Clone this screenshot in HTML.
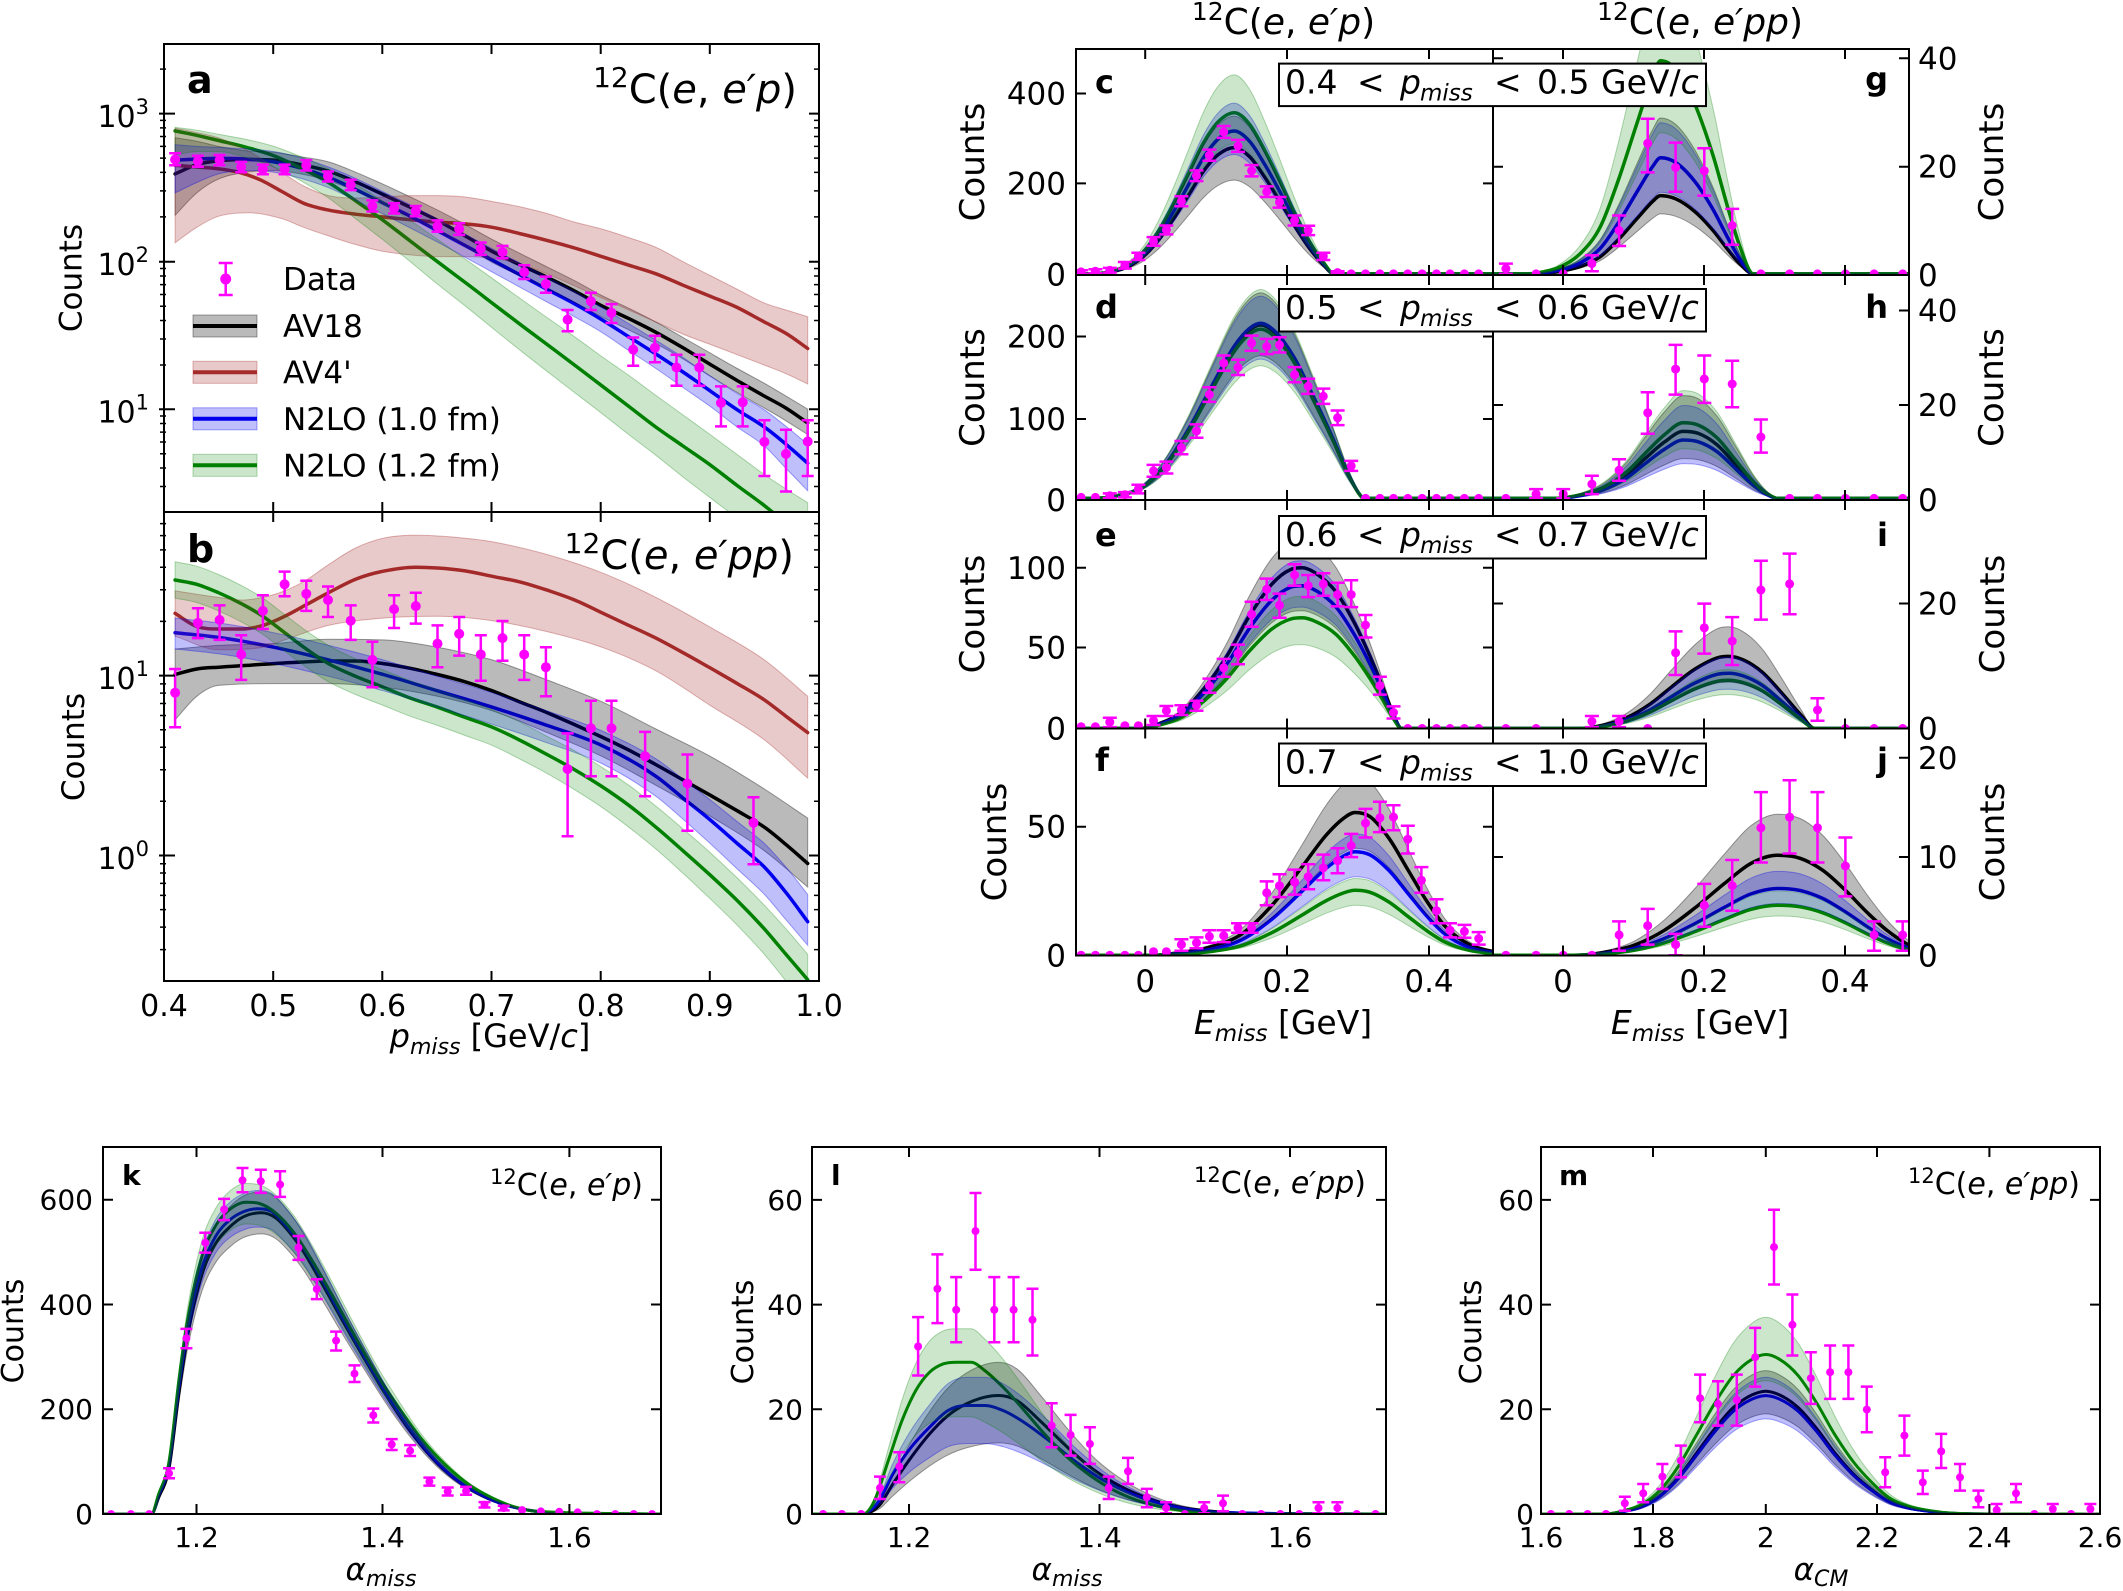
<!DOCTYPE html>
<html><head><meta charset="utf-8">
<style>
html,body{margin:0;padding:0;background:#fff;}
svg{display:block;}
text{font-family:"DejaVu Sans","Liberation Sans",sans-serif;fill:#000;}
.it{font-style:italic}
.bd{font-weight:bold}
</style></head><body>
<svg id="S" width="2123" height="1591" viewBox="0 0 2123 1591">
<defs>
<clipPath id="cA"><rect x="164" y="44" width="655" height="468"/></clipPath>
<clipPath id="cB"><rect x="164" y="512" width="655" height="469"/></clipPath>
<clipPath id="cC"><rect x="1076" y="49" width="417" height="226"/></clipPath>
<clipPath id="cG"><rect x="1493" y="49" width="416" height="226"/></clipPath>
<clipPath id="cD"><rect x="1076" y="275" width="417" height="225"/></clipPath>
<clipPath id="cH"><rect x="1493" y="275" width="416" height="225"/></clipPath>
<clipPath id="cE"><rect x="1076" y="500" width="417" height="228.5"/></clipPath>
<clipPath id="cI"><rect x="1493" y="500" width="416" height="228.5"/></clipPath>
<clipPath id="cF"><rect x="1076" y="728.5" width="417" height="227"/></clipPath>
<clipPath id="cJ"><rect x="1493" y="728.5" width="416" height="227"/></clipPath>
<clipPath id="cK"><rect x="103" y="1147" width="558" height="367"/></clipPath>
<clipPath id="cL"><rect x="812" y="1147" width="574" height="367"/></clipPath>
<clipPath id="cM"><rect x="1541" y="1147" width="559" height="367"/></clipPath>
</defs>
<rect width="2123" height="1591" fill="#fff"/>

<g id="gA" clip-path="url(#cA)"></g>
<g id="gB" clip-path="url(#cB)"></g>
<g id="gC" clip-path="url(#cC)"></g>
<g id="gG" clip-path="url(#cG)"></g>
<g id="gD" clip-path="url(#cD)"></g>
<g id="gH" clip-path="url(#cH)"></g>
<g id="gE" clip-path="url(#cE)"></g>
<g id="gI" clip-path="url(#cI)"></g>
<g id="gF" clip-path="url(#cF)"></g>
<g id="gJ" clip-path="url(#cJ)"></g>
<g id="gK" clip-path="url(#cK)"></g>
<g id="gL" clip-path="url(#cL)"></g>
<g id="gM" clip-path="url(#cM)"></g>

<!-- frames -->
<g fill="none" stroke="#000" stroke-width="2">
<rect x="164" y="44" width="655" height="937"/>
<path d="M164,512H819"/>
<rect x="1076" y="49" width="833" height="906.5"/>
<path d="M1076,275H1909M1076,500H1909M1076,728.5H1909M1493,49V955.5"/>
<rect x="103" y="1147" width="558" height="367"/>
<rect x="812" y="1147" width="574" height="367"/>
<rect x="1541" y="1147" width="559" height="367"/>
</g>
<!-- ticks -->
<g fill="none" stroke="#000" stroke-width="2">
<path d="M273.2,44v10M382.3,44v10M491.5,44v10M600.7,44v10M709.8,44v10M273.2,502v20M382.3,502v20M491.5,502v20M600.7,502v20M709.8,502v20M273.2,971v10M382.3,971v10M491.5,971v10M600.7,971v10M709.8,971v10"/>
<path d="M159,113.6h16M159,261.7h16M159,409.2h16M159,675.6h16M159,855.5h16M809,113.6h10M809,261.7h10M809,409.2h10M809,675.6h10M809,855.5h10"/>
<path d="M1145.2,49v10M1287,49v10M1429,49v10M1563,49v10M1704,49v10M1845,49v10M1145.2,265v20M1287,265v20M1429,265v20M1563,265v20M1704,265v20M1845,265v20M1145.2,490v20M1287,490v20M1429,490v20M1563,490v20M1704,490v20M1845,490v20M1145.2,718.5v20M1287,718.5v20M1429,718.5v20M1563,718.5v20M1704,718.5v20M1845,718.5v20M1145.2,945.5v10M1287,945.5v10M1429,945.5v10M1563,945.5v10M1704,945.5v10M1845,945.5v10"/>
<path d="M1076,93.5h10M1076,183.4h10M1076,336.5h10M1076,419h10M1076,567.8h10M1076,647.5h10M1076,826.7h10M1483,93.5h10M1483,183.4h10M1483,336.5h10M1483,419h10M1483,567.8h10M1483,647.5h10M1483,826.7h10"/>
<path d="M1493,58.3h10M1493,166.7h10M1493,310.5h10M1493,405h10M1493,603.5h10M1493,757.8h10M1493,857h10M1899,58.3h10M1899,166.7h10M1899,310.5h10M1899,405h10M1899,603.5h10M1899,757.8h10M1899,857h10"/>
<path d="M196.5,1147v10M382.5,1147v10M569.4,1147v10M196.5,1504v10M382.5,1504v10M569.4,1504v10M103,1409.2h10M103,1304.5h10M103,1199.7h10M651,1409.2h10M651,1304.5h10M651,1199.7h10"/>
<path d="M909,1147v10M1099.5,1147v10M1290,1147v10M909,1504v10M1099.5,1504v10M1290,1504v10M812,1409.3h10M812,1304.6h10M812,1199.9h10M1376,1409.3h10M1376,1304.6h10M1376,1199.9h10"/>
<path d="M1653,1147v10M1765.8,1147v10M1877,1147v10M1989.4,1147v10M1653,1504v10M1765.8,1504v10M1877,1504v10M1989.4,1504v10M1541,1409.3h10M1541,1304.6h10M1541,1199.9h10M2090,1409.3h10M2090,1304.6h10M2090,1199.9h10"/>
</g>
<g fill="none" stroke="#000" stroke-width="1.5">
<path d="M160,69.1h6M160,120.4h6M160,127.9h6M160,136.5h6M160,146.4h6M160,158.1h6M160,172.4h6M160,190.9h6M160,216.9h6M160,268.5h6M160,276h6M160,284.6h6M160,294.5h6M160,306.2h6M160,320.5h6M160,339h6M160,365h6M160,416h6M160,423.5h6M160,432.1h6M160,442h6M160,453.7h6M160,468h6M160,486.5h6"/>
<path d="M814,69.1h5M814,120.4h5M814,127.9h5M814,136.5h5M814,146.4h5M814,158.1h5M814,172.4h5M814,190.9h5M814,216.9h5M814,268.5h5M814,276h5M814,284.6h5M814,294.5h5M814,306.2h5M814,320.5h5M814,339h5M814,365h5M814,416h5M814,423.5h5M814,432.1h5M814,442h5M814,453.7h5M814,468h5M814,486.5h5"/>
<path d="M160,523.6h6M160,535.6h6M160,549.9h6M160,567.3h6M160,589.8h6M160,621.4h6M160,683.9h6M160,693.1h6M160,703.5h6M160,715.5h6M160,729.7h6M160,747.2h6M160,769.7h6M160,801.3h6M160,863.8h6M160,873h6M160,883.4h6M160,895.4h6M160,909.6h6M160,927.1h6M160,949.6h6"/>
<path d="M814,523.6h5M814,535.6h5M814,549.9h5M814,567.3h5M814,589.8h5M814,621.4h5M814,683.9h5M814,693.1h5M814,703.5h5M814,715.5h5M814,729.7h5M814,747.2h5M814,769.7h5M814,801.3h5M814,863.8h5M814,873h5M814,883.4h5M814,895.4h5M814,909.6h5M814,927.1h5M814,949.6h5"/>
</g>

<!-- Panel a/b texts -->
<text x="187" y="93" class="bd" font-size="38">a</text>
<text x="797" y="103" text-anchor="end" font-size="40"><tspan font-size="28" dy="-16">12</tspan><tspan dy="16">C(</tspan><tspan class="it">e</tspan>, <tspan class="it">e′p</tspan>)</text>
<text x="187" y="562" class="bd" font-size="38">b</text>
<text x="794" y="569" text-anchor="end" font-size="40"><tspan font-size="28" dy="-16">12</tspan><tspan dy="16">C(</tspan><tspan class="it">e</tspan>, <tspan class="it">e′pp</tspan>)</text>
<g font-size="30" text-anchor="end">
<text x="149" y="127">10<tspan font-size="21" dy="-13">3</tspan></text>
<text x="149" y="275">10<tspan font-size="21" dy="-13">2</tspan></text>
<text x="149" y="422.7">10<tspan font-size="21" dy="-13">1</tspan></text>
<text x="149" y="689">10<tspan font-size="21" dy="-13">1</tspan></text>
<text x="149" y="869">10<tspan font-size="21" dy="-13">0</tspan></text>
</g>
<g font-size="30" text-anchor="middle">
<text x="164" y="1016">0.4</text><text x="273.2" y="1016">0.5</text><text x="382.3" y="1016">0.6</text><text x="491.5" y="1016">0.7</text><text x="600.7" y="1016">0.8</text><text x="709.8" y="1016">0.9</text><text x="819" y="1016">1.0</text>
</g>
<text x="490" y="1047" text-anchor="middle" font-size="32"><tspan class="it">p</tspan><tspan class="it" font-size="22" dy="7">miss</tspan><tspan dy="-7"> [GeV/</tspan><tspan class="it">c</tspan>]</text>
<text transform="translate(81.5,278) rotate(-90)" text-anchor="middle" font-size="31">Counts</text>
<text transform="translate(84,747) rotate(-90)" text-anchor="middle" font-size="31">Counts</text>

<!-- legend -->
<g>
<path d="M225.7,263V295M218.7,263h14M218.7,295h14" stroke="#ff00ff" stroke-width="2.5" fill="none"/>
<circle cx="225.7" cy="279" r="5.5" fill="#ff00ff"/>
<rect x="193" y="315" width="64" height="22" fill="#000" fill-opacity=".27" stroke="#000" stroke-opacity=".35"/>
<path d="M193,326h64" stroke="#000" stroke-width="4"/>
<rect x="193" y="361.3" width="64" height="22" fill="#a52a2a" fill-opacity=".25" stroke="#a52a2a" stroke-opacity=".35"/>
<path d="M193,372.3h64" stroke="#a52a2a" stroke-width="4"/>
<rect x="193" y="407.8" width="64" height="22" fill="#0000ee" fill-opacity=".25" stroke="#0000ee" stroke-opacity=".35"/>
<path d="M193,418.8h64" stroke="#0000ee" stroke-width="4"/>
<rect x="193" y="454.3" width="64" height="22" fill="#008000" fill-opacity=".2" stroke="#008000" stroke-opacity=".3"/>
<path d="M193,465.3h64" stroke="#008000" stroke-width="4"/>
<g font-size="31">
<text x="283" y="290">Data</text>
<text x="283" y="337">AV18</text>
<text x="283" y="383.5">AV4'</text>
<text x="283" y="430">N2LO (1.0 fm)</text>
<text x="283" y="476.5">N2LO (1.2 fm)</text>
</g>
</g>

<!-- right panels texts -->
<text x="1283.5" y="34" text-anchor="middle" font-size="36"><tspan font-size="25" dy="-14">12</tspan><tspan dy="14">C(</tspan><tspan class="it">e</tspan>, <tspan class="it">e′p</tspan>)</text>
<text x="1700" y="34" text-anchor="middle" font-size="36"><tspan font-size="25" dy="-14">12</tspan><tspan dy="14">C(</tspan><tspan class="it">e</tspan>, <tspan class="it">e′pp</tspan>)</text>
<g class="bd" font-size="32">
<text x="1095" y="93">c</text><text x="1888" y="90" text-anchor="end">g</text>
<text x="1095" y="318">d</text><text x="1888" y="318" text-anchor="end">h</text>
<text x="1095" y="546">e</text><text x="1888" y="546" text-anchor="end">i</text>
<text x="1095" y="771">f</text><text x="1888" y="771" text-anchor="end">j</text>
</g>
<g fill="#fff" stroke="#000" stroke-width="2">
<rect x="1279" y="63.6" width="427" height="42.5"/>
<rect x="1279" y="289" width="427" height="42.5"/>
<rect x="1279" y="516" width="427" height="42.5"/>
<rect x="1279" y="743.5" width="427" height="42.5"/>
</g>
<g font-size="33">
<text y="93.6"><tspan x="1285">0.4</tspan><tspan x="1357">&lt;</tspan><tspan x="1400" class="it">p</tspan><tspan x="1420" dy="7" font-size="23" class="it">miss</tspan><tspan x="1494" dy="-7">&lt;</tspan><tspan x="1537">0.5</tspan><tspan x="1601">GeV/</tspan><tspan class="it">c</tspan></text>
<text y="319"><tspan x="1285">0.5</tspan><tspan x="1357">&lt;</tspan><tspan x="1400" class="it">p</tspan><tspan x="1420" dy="7" font-size="23" class="it">miss</tspan><tspan x="1494" dy="-7">&lt;</tspan><tspan x="1537">0.6</tspan><tspan x="1601">GeV/</tspan><tspan class="it">c</tspan></text>
<text y="546"><tspan x="1285">0.6</tspan><tspan x="1357">&lt;</tspan><tspan x="1400" class="it">p</tspan><tspan x="1420" dy="7" font-size="23" class="it">miss</tspan><tspan x="1494" dy="-7">&lt;</tspan><tspan x="1537">0.7</tspan><tspan x="1601">GeV/</tspan><tspan class="it">c</tspan></text>
<text y="773.5"><tspan x="1285">0.7</tspan><tspan x="1357">&lt;</tspan><tspan x="1400" class="it">p</tspan><tspan x="1420" dy="7" font-size="23" class="it">miss</tspan><tspan x="1494" dy="-7">&lt;</tspan><tspan x="1537">1.0</tspan><tspan x="1601">GeV/</tspan><tspan class="it">c</tspan></text>
</g>
<g font-size="31" text-anchor="end">
<text x="1066" y="104.5">400</text><text x="1066" y="194.4">200</text><text x="1066" y="285.5">0</text>
<text x="1066" y="347.5">200</text><text x="1066" y="430">100</text><text x="1066" y="511">0</text>
<text x="1066" y="578.8">100</text><text x="1066" y="658.5">50</text><text x="1066" y="739.5">0</text>
<text x="1066" y="837.7">50</text><text x="1066" y="966.5">0</text>
</g>
<g font-size="31">
<text x="1918" y="69.3">40</text><text x="1918" y="177.7">20</text><text x="1918" y="286">0</text>
<text x="1918" y="321.5">40</text><text x="1918" y="416">20</text><text x="1918" y="511">0</text>
<text x="1918" y="614.5">20</text><text x="1918" y="739.5">0</text>
<text x="1918" y="768.8">20</text><text x="1918" y="868">10</text><text x="1918" y="966.5">0</text>
</g>
<g font-size="31" text-anchor="middle">
<text x="1145.2" y="992">0</text><text x="1287" y="992">0.2</text><text x="1429" y="992">0.4</text>
<text x="1563" y="992">0</text><text x="1704" y="992">0.2</text><text x="1845" y="992">0.4</text>
</g>
<text x="1283" y="1034" text-anchor="middle" font-size="33"><tspan class="it">E</tspan><tspan class="it" font-size="23" dy="7">miss</tspan><tspan dy="-7"> [GeV]</tspan></text>
<text x="1700" y="1034" text-anchor="middle" font-size="33"><tspan class="it">E</tspan><tspan class="it" font-size="23" dy="7">miss</tspan><tspan dy="-7"> [GeV]</tspan></text>
<g font-size="34" text-anchor="middle">
<text transform="translate(984,162) rotate(-90)">Counts</text>
<text transform="translate(984,387.5) rotate(-90)">Counts</text>
<text transform="translate(984,614) rotate(-90)">Counts</text>
<text transform="translate(1006,842) rotate(-90)">Counts</text>
<text transform="translate(2003,162) rotate(-90)">Counts</text>
<text transform="translate(2003,387.5) rotate(-90)">Counts</text>
<text transform="translate(2004,614) rotate(-90)">Counts</text>
<text transform="translate(2004,842) rotate(-90)">Counts</text>
</g>

<!-- bottom panels texts -->
<g font-size="28" text-anchor="end">
<text x="93" y="1524">0</text><text x="93" y="1419.2">200</text><text x="93" y="1314.5">400</text><text x="93" y="1209.7">600</text>
<text x="803" y="1524">0</text><text x="803" y="1419.3">20</text><text x="803" y="1314.6">40</text><text x="803" y="1209.9">60</text>
<text x="1534" y="1524">0</text><text x="1534" y="1419.3">20</text><text x="1534" y="1314.6">40</text><text x="1534" y="1209.9">60</text>
</g>
<g font-size="28" text-anchor="middle">
<text x="196.5" y="1547">1.2</text><text x="382.5" y="1547">1.4</text><text x="569.4" y="1547">1.6</text>
<text x="909" y="1547">1.2</text><text x="1099.5" y="1547">1.4</text><text x="1290" y="1547">1.6</text>
<text x="1541" y="1547">1.6</text><text x="1653" y="1547">1.8</text><text x="1765.8" y="1547">2</text><text x="1877" y="1547">2.2</text><text x="1989.4" y="1547">2.4</text><text x="2100" y="1547">2.6</text>
</g>
<g font-size="31" text-anchor="middle">
<text x="381" y="1580"><tspan class="it">α</tspan><tspan class="it" font-size="22" dy="6">miss</tspan></text>
<text x="1067" y="1580"><tspan class="it">α</tspan><tspan class="it" font-size="22" dy="6">miss</tspan></text>
<text x="1821" y="1580"><tspan class="it">α</tspan><tspan class="it" font-size="22" dy="6">CM</tspan></text>
</g>
<g font-size="30" text-anchor="middle">
<text transform="translate(23,1331) rotate(-90)">Counts</text>
<text transform="translate(753,1332) rotate(-90)">Counts</text>
<text transform="translate(1481,1332) rotate(-90)">Counts</text>
</g>
<g font-size="30" text-anchor="end">
<text x="643" y="1195"><tspan font-size="21" dy="-11">12</tspan><tspan dy="11">C(</tspan><tspan class="it">e</tspan>, <tspan class="it">e′p</tspan>)</text>
<text x="1366" y="1193"><tspan font-size="21" dy="-11">12</tspan><tspan dy="11">C(</tspan><tspan class="it">e</tspan>, <tspan class="it">e′pp</tspan>)</text>
<text x="2080" y="1194"><tspan font-size="21" dy="-11">12</tspan><tspan dy="11">C(</tspan><tspan class="it">e</tspan>, <tspan class="it">e′pp</tspan>)</text>
</g>
<g class="bd" font-size="28">
<text x="122" y="1185">k</text><text x="831" y="1185">l</text><text x="1559" y="1185">m</text>
</g>
</svg>

<script>
(function(){
var K='#000',RD='#a52a2a',BL='#0000ee',GR='#008000',MG='#ff00ff';
function r1(v){return Math.round(v*10)/10;}
function M(Z){return function(p){return [Z.tx+p[0]*Z.sx, Z.ty+p[1]*Z.sy];};}
/* monotone cubic Hermite spline parametrised by x (no loops / overshoot) */
function cr(P){
  var n=P.length, i, d='M'+r1(P[0][0])+','+r1(P[0][1]);
  if(n<2) return d;
  var s=[], m=[];
  for(i=0;i<n-1;i++){var dx=P[i+1][0]-P[i][0]; s.push(dx===0?0:(P[i+1][1]-P[i][1])/dx);}
  for(i=0;i<n;i++){
    if(i===0) m.push(s[0]);
    else if(i===n-1) m.push(s[n-2]);
    else {
      var a=s[i-1], b=s[i];
      if(a*b<=0) m.push(0);
      else { var t=(a+b)/2; var lim=3*Math.min(Math.abs(a),Math.abs(b)); if(Math.abs(t)>lim) t=(t>0?lim:-lim); m.push(t); }
    }
  }
  for(i=0;i<n-1;i++){
    var p1=P[i], p2=P[i+1], h=(p2[0]-p1[0])/3;
    d+='C'+r1(p1[0]+h)+','+r1(p1[1]+m[i]*h)+' '+r1(p2[0]-h)+','+r1(p2[1]-m[i+1]*h)+' '+r1(p2[0])+','+r1(p2[1]);
  }
  return d;
}
function draw(id,Z,lines,bands,data,o){
  var m=M(Z), s='', i;
  for(i=0;i<lines.length;i++){var L=lines[i]; s+='<path d="'+cr(L[0].map(m))+'" fill="none" stroke="'+L[1]+'" stroke-width="'+(o.lw||3.5)+'" stroke-linejoin="round" stroke-linecap="round"/>';}
  for(i=0;i<bands.length;i++){var B=bands[i]; var U=B[0].map(m), Lo=B[1].map(m).reverse();
    s+='<path d="'+cr(U)+'L'+cr(Lo).slice(1)+'Z" fill="'+B[2]+'" fill-opacity="'+B[3]+'" stroke="'+B[2]+'" stroke-opacity="'+(B[3]+0.1)+'" stroke-width="1"/>';}
  var e='',c='',w=o.cap||7,r=o.r||4.5;
  for(i=0;i<data.length;i++){var p=data[i]; var q=m(p); var x=r1(q[0]), y=r1(q[1]);
    if(p.length>3){var y1=r1(Z.ty+p[2]*Z.sy), y2=r1(Z.ty+p[3]*Z.sy);
      e+='M'+x+','+y1+'V'+y2+'M'+r1(x-w)+','+y1+'h'+(2*w)+'M'+r1(x-w)+','+y2+'h'+(2*w);}
    c+='<circle cx="'+x+'" cy="'+y+'" r="'+r+'"/>';}
  s+='<path d="'+e+'" stroke="'+MG+'" stroke-width="2.5" fill="none"/><g fill="'+MG+'">'+c+'</g>';
  document.getElementById(id).innerHTML=s;
}
function bell(id,Z,base,S,A,data,o){
  var B=function(a){return S.map(function(p){return [p[0],base-a*p[1]];});};
  draw(id,Z,[[B(A.k[0]),K],[B(A.b[0]),BL],[B(A.g[0]),GR]],
    [[B(A.k[1]),B(A.k[2]),'#000',0.27],[B(A.b[1]),B(A.b[2]),BL,0.25],[B(A.g[1]),B(A.g[2]),GR,0.2]],data,o||{});
}
function fac(P,base,f){return P.map(function(p){return [p[0],base-(base-p[1])*f];});}

var Z1={sx:.5421,sy:.3444,tx:0,ty:0}, Z2={sx:.5421,sy:.3635,tx:0,ty:500},
    Z3={sx:.7545,sy:.3316,tx:940,ty:0}, Z4={sx:.7545,sy:.3571,tx:940,ty:500},
    Z5={sx:.4592,sy:.3318,tx:0,ty:1100}, Z6={sx:.4592,sy:.3336,tx:700,ty:1100.3},
    Z7={sx:.4592,sy:.3336,tx:1403,ty:1097};

/* ---------- Panel a ---------- */
var kA=[[323,505],[363,478],[403,467],[455,463],[505,465],[555,478],[606,497],[656,528],[707,565],[757,602],[807,640],[858,685],[908,730],[958,768],[1009,805],[1060,845],[1110,888],[1160,925],[1210,965],[1260,1010],[1310,1058],[1360,1105],[1410,1150],[1450,1185],[1490,1228]];
var kAu=[[323,400],[363,410],[403,425],[455,438],[505,442],[555,455],[606,470],[656,500],[707,535],[757,572],[807,610],[858,652],[908,695],[958,735],[1009,775],[1060,815],[1110,858],[1160,895],[1210,935],[1260,980],[1310,1025],[1360,1070],[1410,1113],[1450,1150],[1490,1188]];
var kAl=[[323,625],[363,560],[403,520],[455,500],[505,495],[555,505],[606,525],[656,555],[707,592],[757,632],[807,670],[858,715],[908,762],[958,800],[1009,838],[1060,878],[1110,920],[1160,958],[1210,998],[1260,1042],[1310,1092],[1360,1140],[1410,1185],[1450,1222],[1490,1262]];
var rA=[[323,480],[363,485],[403,490],[440,500],[480,522],[520,556],[560,590],[606,610],[656,622],[707,630],[757,638],[807,645],[858,650],[908,660],[958,678],[1009,698],[1060,720],[1110,745],[1160,770],[1210,795],[1260,828],[1310,860],[1360,893],[1410,935],[1450,968],[1490,1012]];
var rAu=[[323,372],[363,385],[403,400],[460,440],[520,500],[560,540],[606,568],[656,575],[707,572],[757,568],[807,568],[858,572],[908,585],[958,600],[1009,620],[1060,645],[1110,665],[1160,690],[1210,718],[1260,760],[1310,800],[1360,840],[1410,880],[1450,900],[1490,920]];
var rAl=[[323,705],[363,660],[403,628],[460,618],[520,635],[560,660],[606,685],[656,710],[707,730],[757,740],[807,745],[858,745],[908,750],[958,765],[1009,795],[1060,830],[1110,865],[1160,900],[1210,935],[1260,970],[1310,1000],[1360,1030],[1410,1060],[1450,1085],[1490,1115]];
var bA=[[323,465],[363,462],[403,460],[455,462],[505,470],[555,488],[606,515],[656,550],[707,590],[757,628],[807,670],[858,713],[908,755],[958,797],[1009,840],[1060,882],[1110,928],[1160,978],[1210,1028],[1260,1080],[1310,1135],[1360,1190],[1410,1240],[1450,1290],[1490,1345]];
var bAu=[[323,420],[363,425],[403,428],[455,432],[505,440],[555,458],[606,485],[656,518],[707,557],[757,595],[807,637],[858,680],[908,722],[958,763],[1009,805],[1060,847],[1110,892],[1160,940],[1210,988],[1260,1038],[1310,1092],[1360,1143],[1410,1190],[1450,1238],[1490,1290]];
var bAl=[[323,560],[363,530],[403,505],[455,495],[505,500],[555,518],[606,545],[656,582],[707,622],[757,662],[807,703],[858,747],[908,790],[958,833],[1009,877],[1060,920],[1110,965],[1160,1018],[1210,1070],[1260,1125],[1310,1180],[1360,1240],[1410,1295],[1450,1360],[1490,1425]];
var gA=[[323,380],[363,393],[403,408],[455,428],[505,452],[555,488],[606,530],[656,583],[707,640],[757,700],[807,760],[858,820],[908,880],[958,940],[1009,1000],[1060,1060],[1110,1120],[1160,1180],[1210,1240],[1260,1295],[1310,1350],[1360,1410],[1410,1468],[1450,1520]];
var gAu=[[323,370],[363,378],[403,390],[455,405],[505,425],[555,455],[606,490],[656,535],[707,585],[757,640],[807,695],[858,752],[908,808],[958,865],[1009,922],[1060,978],[1110,1035],[1160,1090],[1210,1148],[1260,1205],[1310,1262],[1360,1320],[1410,1378],[1450,1420],[1490,1460]];
var gAl=[[323,450],[363,440],[403,440],[455,458],[505,485],[555,525],[606,575],[656,635],[707,697],[757,760],[807,825],[858,888],[908,952],[958,1015],[1009,1078],[1060,1140],[1110,1200],[1160,1262],[1210,1322],[1260,1385],[1310,1445],[1360,1505],[1410,1565],[1490,1660]];
var dA=[[323,463,445,480],[365,468,452,484],[405,465,450,480],[445,485,470,500],[485,492,478,506],[525,492,478,506],[565,480,465,495],[605,512,498,527],[647,537,522,552],[687,598,582,614],[727,605,590,620],[767,612,598,628],[807,657,640,673],[847,665,648,682],[887,722,704,740],[927,732,714,750],[967,790,770,810],[1007,825,803,850],[1047,928,900,962],[1090,875,850,900],[1128,908,883,938],[1168,1015,980,1062],[1208,1010,975,1052],[1248,1067,1030,1120],[1290,1067,1030,1120],[1330,1170,1122,1238],[1370,1168,1122,1238],[1410,1283,1220,1382],[1450,1318,1248,1427],[1490,1282,1220,1382]];
draw('gA',Z1,[[kA,K],[rA,RD],[bA,BL],[gA,GR]],[[kAu,kAl,'#000',0.27],[rAu,rAl,RD,0.25],[bAu,bAl,BL,0.25],[gAu,gAl,GR,0.2]],dA,{cap:6,r:5});

/* ---------- Panel b ---------- */
var kB=[[323,480],[363,465],[403,460],[455,455],[505,450],[555,446],[606,443],[656,443],[707,450],[757,463],[807,480],[858,500],[908,525],[958,555],[1009,585],[1060,618],[1110,652],[1160,688],[1210,728],[1260,770],[1310,812],[1360,855],[1410,900],[1450,948],[1490,1000]];
var kBu=[[323,410],[403,400],[505,395],[606,383],[707,385],[807,405],[908,440],[1009,495],[1110,555],[1210,630],[1310,705],[1410,795],[1490,875]];
var kBl=[[323,605],[363,540],[403,510],[505,505],[606,505],[707,515],[807,540],[908,580],[1009,640],[1110,705],[1210,785],[1310,870],[1410,965],[1490,1065]];
var rB=[[323,312],[363,348],[403,355],[445,355],[485,345],[525,320],[565,288],[606,255],[656,218],[707,196],[767,185],[807,187],[858,195],[908,210],[958,225],[1009,248],[1060,275],[1110,310],[1160,345],[1210,380],[1260,420],[1310,462],[1360,505],[1410,550],[1450,595],[1490,640]];
var rBu=[[323,250],[403,268],[445,275],[485,268],[525,250],[565,220],[606,178],[656,132],[707,105],[767,97],[858,105],[908,115],[1009,150],[1110,200],[1210,268],[1310,350],[1410,440],[1490,540]];
var rBl=[[323,375],[403,412],[485,405],[525,385],[606,345],[707,325],[807,320],[908,332],[1009,362],[1110,405],[1210,470],[1310,565],[1410,660],[1490,765]];
var bB=[[323,365],[403,378],[505,405],[606,440],[707,480],[807,525],[908,570],[1009,620],[1110,675],[1210,760],[1260,820],[1310,880],[1360,945],[1410,1010],[1450,1080],[1490,1160]];
var bBu=[[323,325],[403,338],[505,365],[606,400],[707,440],[807,485],[908,530],[1009,580],[1110,635],[1210,712],[1260,768],[1310,825],[1360,885],[1410,945],[1450,1010],[1490,1085]];
var bBl=[[323,410],[403,423],[505,450],[606,485],[707,525],[807,570],[908,617],[1009,668],[1110,725],[1210,815],[1260,878],[1310,945],[1360,1015],[1410,1085],[1450,1155],[1490,1225]];
var gB=[[323,220],[363,232],[403,255],[445,285],[485,320],[525,365],[565,410],[606,450],[656,485],[707,515],[757,545],[807,570],[858,598],[908,625],[958,660],[1009,700],[1060,742],[1110,788],[1160,840],[1210,900],[1260,965],[1310,1032],[1360,1102],[1410,1180],[1450,1250],[1490,1320]];
var gBu=[[323,170],[363,182],[403,205],[445,235],[485,270],[525,315],[565,360],[606,400],[656,437],[707,468],[757,497],[807,522],[858,550],[908,577],[958,610],[1009,650],[1060,690],[1110,735],[1160,785],[1210,842],[1260,905],[1310,970],[1360,1040],[1410,1115],[1450,1180],[1490,1250]];
var gBl=[[323,270],[363,282],[403,305],[445,335],[485,370],[525,415],[565,460],[606,500],[656,535],[707,565],[757,595],[807,620],[858,648],[908,675],[958,712],[1009,752],[1060,797],[1110,845],[1160,900],[1210,960],[1260,1027],[1310,1097],[1360,1170],[1410,1250],[1490,1400]];
var dB=[[323,530,465,625],[365,338,298,380],[405,330,290,385],[445,425,372,495],[485,305,262,355],[525,232,197,265],[565,258,222,305],[605,275,238,322],[647,332,290,385],[687,440,390,515],[727,300,262,352],[767,292,255,340],[807,395,345,460],[847,368,322,428],[887,425,372,497],[927,380,333,442],[967,425,372,495],[1007,460,405,540],[1047,740,642,925],[1090,628,552,760],[1128,628,552,760],[1190,705,638,815],[1268,780,700,910],[1390,888,818,1002]];
draw('gB',Z2,[[kB,K],[rB,RD],[bB,BL],[gB,GR]],[[kBu,kBl,'#000',0.27],[rBu,rBl,RD,0.25],[bBu,bBl,BL,0.25],[gBu,gBl,GR,0.2]],dB,{cap:6,r:5});

/* ---------- Right panels ---------- */
var SC=[[178,0],[200,0],[230,0.02],[250,0.06],[270,0.14],[290,0.27],[310,0.44],[330,0.63],[350,0.82],[370,0.95],[390,1],[410,0.93],[430,0.77],[450,0.58],[470,0.38],[490,0.2],[510,0.06],[522,0],[740,0]];
var dC=[[187,820,815,826],[206,818,812,824],[225,815,808,822],[245,800,790,810],[263,773,762,784],[283,728,715,741],[300,693,680,707],[320,607,592,622],[340,530,514,546],[357,468,451,485],[376,398,380,416],[395,440,422,458],[413,515,498,532],[433,578,562,594],[450,610,594,626],[470,665,650,680],[488,695,681,709],[508,773,762,784],[527,822,818,826],[545,826],[564,826],[583,826],[601,826],[620,826],[639,826],[658,826],[676,826],[695,826],[714,826]];
bell('gC',Z3,826,SC,{k:[381,476,283],b:[431,515,360],g:[486,600,392]},dC);

var SG=[[733,0],[780,0],[800,0.01],[820,0.03],[850,0.1],[875,0.22],[900,0.45],[925,0.72],[945,0.93],[955,1],[975,0.96],[1000,0.8],[1025,0.55],[1045,0.3],[1060,0.13],[1078,0],[1290,0]];
var dG=[[750,810,795,826],[790,826],[826,826],[864,795,770,818],[900,695,650,742],[938,432,358,520],[975,505,430,578],[1013,515,447,590],[1050,680,630,738],[1088,826],[1126,826],[1163,826],[1200,826],[1238,826],[1276,826]];
bell('gG',Z3,826,SG,{k:[236,470,181],b:[350,456,246],g:[643,900,426]},dG);

var SD=[[178,0],[200,0],[240,0.02],[270,0.07],[300,0.2],[330,0.4],[360,0.64],[390,0.87],[410,0.97],[425,1],[445,0.95],[470,0.8],[495,0.58],[520,0.35],[540,0.15],[555,0.03],[562,0],[740,0]];
var dD=[[187,1500],[206,1500],[225,1495,1488,1502],[245,1492,1484,1500],[263,1475,1462,1488],[283,1420,1402,1438],[300,1410,1392,1428],[320,1350,1330,1370],[340,1300,1280,1320],[357,1190,1168,1212],[376,1095,1072,1118],[395,1108,1085,1131],[413,1035,1012,1058],[433,1045,1022,1068],[450,1040,1017,1063],[470,1130,1107,1153],[488,1165,1142,1188],[508,1195,1172,1218],[527,1260,1238,1282],[545,1405,1390,1420],[564,1503],[583,1503],[601,1503],[620,1503],[639,1503],[658,1503],[676,1503],[695,1503],[714,1503]];
bell('gD',Z3,1503,SD,{k:[523,620,430],b:[528,610,420],g:[510,630,400]},dD);

var SH=[[733,0],[815,0],[850,0.05],[880,0.15],[910,0.35],[935,0.6],[960,0.84],[985,1],[1005,0.97],[1030,0.8],[1055,0.5],[1080,0.2],[1100,0.04],[1110,0],[1290,0]];
var dH=[[750,1503],[790,1490,1475,1503],[826,1490,1475,1503],[864,1460,1435,1490],[900,1418,1385,1450],[938,1245,1183,1308],[975,1113,1040,1190],[1013,1143,1072,1215],[1050,1158,1088,1228],[1088,1318,1265,1365],[1126,1503],[1163,1503],[1200,1503],[1238,1503],[1276,1503]];
bell('gH',Z3,1503,SH,{k:[202,310,120],b:[176,280,105],g:[228,325,150]},dH);

var SE=[[178,0],[265,0],[290,0.03],[320,0.1],[350,0.25],[380,0.45],[410,0.7],[440,0.9],[465,0.99],[480,1],[500,0.96],[525,0.85],[550,0.65],[570,0.45],[585,0.28],[600,0.1],[612,0],[740,0]];
var dE=[[187,635],[206,635],[225,622,610,636],[245,632],[263,632],[283,618,605,630],[300,590,577,605],[320,588,575,602],[340,575,562,590],[357,520,500,540],[376,470,445,495],[395,430,405,460],[413,320,285,355],[433,250,220,280],[450,295,262,330],[470,210,180,240],[488,240,210,272],[508,235,205,268],[527,265,232,298],[545,265,225,300],[564,350,322,385],[583,520,495,545],[601,595,578,612],[620,640],[639,640],[658,640],[676,640],[695,640],[714,640]];
bell('gE',Z4,640,SE,{k:[450,530,330],b:[400,470,340],g:[310,370,235]},dE);

var SI=[[733,0],[845,0],[880,0.05],[910,0.15],[940,0.33],[970,0.58],[1000,0.82],[1030,0.98],[1045,1],[1065,0.95],[1090,0.78],[1115,0.5],[1140,0.2],[1160,0],[1290,0]];
var dI=[[750,640],[790,640],[864,620,605,636],[900,620,605,636],[938,640],[975,428,368,490],[1013,358,290,430],[1050,395,328,462],[1088,252,170,335],[1126,235,150,320],[1163,588,555,618],[1200,640],[1238,640],[1276,640]];
bell('gI',Z4,640,SI,{k:[202,285,130],b:[155,200,110],g:[135,165,95]},dI);

var SF=[[178,0],[280,0],[320,0.02],[360,0.06],[400,0.15],[440,0.35],[480,0.62],[510,0.83],[535,0.96],[550,1],[570,0.97],[595,0.82],[620,0.6],[645,0.38],[670,0.2],[700,0.08],[730,0.03],[760,0.01]];
var dF=[[187,1275],[206,1275],[225,1275],[245,1275],[263,1275],[283,1265],[300,1265],[320,1245,1230,1262],[340,1240,1225,1255],[357,1222,1205,1240],[376,1220,1205,1238],[395,1198,1185,1212],[413,1198,1185,1212],[433,1100,1068,1135],[450,1080,1048,1112],[470,1070,1035,1105],[488,1055,1020,1090],[508,1030,993,1065],[527,1010,975,1045],[545,968,935,1000],[564,905,865,945],[583,890,845,930],[601,888,855,925],[620,950,912,990],[638,1065,1028,1100],[658,1150,1118,1185],[676,1205,1185,1225],[695,1208,1190,1226],[714,1228,1210,1245]];
bell('gF',Z4,1275,SF,{k:[400,500,300],b:[290,340,220],g:[182,215,140]},dF);

var SJ=[[733,0],[840,0],[880,0.03],[920,0.1],[960,0.25],[1000,0.47],[1040,0.72],[1075,0.92],[1110,1],[1140,0.97],[1170,0.85],[1200,0.65],[1230,0.42],[1255,0.25],[1285,0.1],[1300,0.06]];
var dJ=[[750,1275],[790,1275],[826,1275],[864,1275],[900,1218,1180,1262],[938,1192,1145,1245],[975,1245,1215,1275],[1013,1135,1075,1195],[1050,1080,1008,1150],[1088,918,818,1015],[1126,888,785,990],[1163,918,818,1015],[1200,1025,945,1110],[1238,1218,1180,1262],[1276,1218,1180,1262]];
bell('gJ',Z4,1275,SJ,{k:[280,395,185],b:[187,235,145],g:[140,180,110]},dJ);

/* ---------- Panel k ---------- */
var kK=[[224,1248],[300,1248],[330,1248],[345,1200],[368,1110],[390,880],[410,700],[440,525],[470,432],[500,383],[530,352],[570,340],[600,355],[630,398],[660,455],[700,550],[750,675],[800,795],[850,910],[900,1010],[950,1092],[1000,1152],[1050,1193],[1100,1220],[1150,1236],[1200,1244],[1250,1247],[1440,1248]];
var bK=[[224,1248],[300,1248],[330,1248],[345,1195],[368,1100],[390,860],[410,680],[440,505],[470,410],[500,362],[530,337],[560,328],[590,335],[620,375],[660,445],[700,540],[750,668],[800,790],[850,905],[900,1005],[950,1088],[1000,1150],[1050,1192],[1100,1220],[1150,1236],[1200,1244],[1440,1248]];
var gK=[[224,1248],[300,1248],[330,1248],[345,1190],[368,1090],[390,840],[410,650],[440,470],[470,378],[500,330],[535,308],[565,312],[600,340],[640,400],[680,485],[720,580],[770,705],[820,825],[870,930],[920,1025],[970,1100],[1020,1158],[1070,1198],[1120,1226],[1170,1240],[1440,1248]];
var dK=[[242,1248],[285,1248],[325,1248],[368,1125,1110,1140],[406,718,690,748],[447,430,400,460],[488,330,298,362],[528,242,205,278],[568,245,210,280],[610,255,215,292],[650,445,410,482],[690,570,540,600],[732,725,698,755],[772,825,800,850],[813,950,930,972],[853,1038,1022,1055],[893,1057,1040,1073],[935,1150,1138,1162],[975,1180,1168,1192],[1015,1178,1166,1190],[1055,1220,1212,1228],[1097,1230,1223,1237],[1137,1236],[1178,1240],[1218,1241],[1258,1243],[1300,1248],[1340,1248],[1380,1248],[1420,1248]];
draw('gK',Z5,[[kK,K],[bK,BL],[gK,GR]],[[fac(kK,1248,1.07),fac(kK,1248,0.93),'#000',0.27],[fac(bK,1248,1.06),fac(bK,1248,0.94),BL,0.25],[fac(gK,1248,1.06),fac(gK,1248,0.93),GR,0.2]],dK,{cap:6,r:4,lw:3});

/* ---------- Panel l ---------- */
var gL=[[245,1240],[355,1240],[380,1200],[410,1080],[440,960],[470,870],[500,815],[530,790],[560,785],[590,785],[620,810],[660,860],[700,920],[750,1000],[800,1070],[850,1125],[900,1168],[950,1198],[1000,1218],[1050,1230],[1100,1236],[1200,1240],[1500,1240]];
var kL=[[245,1240],[355,1240],[390,1215],[420,1150],[460,1070],[500,1000],[540,945],[580,910],[620,890],[650,885],[690,900],[740,960],[800,1040],[860,1110],[920,1160],[980,1195],[1040,1218],[1100,1230],[1200,1238],[1500,1240]];
var bL=[[245,1240],[355,1240],[390,1200],[420,1120],[460,1040],[500,980],[540,930],[580,915],[620,915],[660,930],[700,960],[760,1020],[820,1085],[880,1140],[940,1180],[1000,1208],[1060,1225],[1150,1236],[1500,1240]];
var dL=[[268,1240],[309,1240],[351,1240],[392,1162,1128,1195],[434,1098,1055,1145],[475,738,650,825],[517,565,462,668],[558,628,530,725],[600,392,278,508],[641,628,530,725],[683,628,530,725],[724,658,565,765],[766,975,908,1040],[807,1003,943,1065],[849,1030,980,1090],[890,1162,1128,1195],[932,1112,1072,1150],[973,1190,1165,1220],[1015,1222,1205,1238],[1056,1240],[1098,1222,1205,1238],[1139,1208,1185,1232],[1181,1240],[1222,1240],[1264,1240],[1305,1240],[1347,1222,1205,1238],[1388,1222,1205,1238],[1430,1240],[1471,1240]];
draw('gL',Z6,[[kL,K],[bL,BL],[gL,GR]],[[fac(kL,1240,1.28),fac(kL,1240,0.6),'#000',0.27],[fac(bL,1240,1.26),fac(bL,1240,0.65),BL,0.25],[fac(gL,1240,1.22),fac(gL,1240,0.64),GR,0.2]],dL,{cap:6,r:4,lw:3});

/* ---------- Panel m ---------- */
var SM=[[300,0],[440,0],[480,0.02],[520,0.06],[560,0.15],[600,0.3],[640,0.5],[680,0.7],[720,0.87],[760,0.97],[790,1],[820,0.97],[860,0.87],[900,0.7],[940,0.5],[980,0.33],[1020,0.2],[1060,0.1],[1100,0.05],[1150,0.02],[1200,0.005],[1300,0],[1520,0]];
var dM=[[322,1250],[362,1250],[402,1250],[442,1250],[483,1218,1198,1240],[523,1188,1160,1215],[565,1138,1100,1175],[605,1090,1045,1140],[647,903,832,975],[686,920,852,985],[727,908,832,985],[767,780,692,868],[808,450,338,562],[848,683,592,775],[888,843,765,920],[930,825,745,905],[970,825,745,905],[1010,937,868,1005],[1050,1125,1080,1170],[1092,1015,955,1075],[1132,1155,1120,1190],[1172,1062,1010,1112],[1213,1140,1100,1180],[1253,1205,1180,1230],[1293,1238,1220,1250],[1335,1188,1160,1215],[1375,1250],[1415,1235,1220,1250],[1455,1250],[1497,1235,1220,1250]];
bell('gM',Z7,1250,SM,{k:[368,430,300],b:[355,410,285],g:[478,590,400]},dM,{cap:6,r:4,lw:3});
})();
</script>
</body></html>
